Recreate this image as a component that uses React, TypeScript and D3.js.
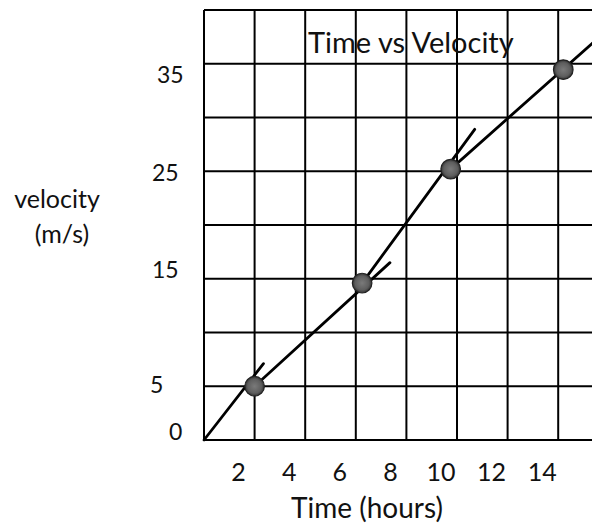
import React, { useEffect, useRef } from 'react';
import * as d3 from 'd3';

// Values
const xTicks = [2, 4, 6, 8, 10, 12, 14];
const yTicks = [0, 5, 15, 25, 35];
const xGrid = [0, 2, 4, 6, 8, 10, 12, 14, 16];
const yGrid = [0, 5, 10, 15, 20, 25, 30, 35, 40];

const pointTime = [2, 6.25, 9.75, 14.2];
const pointVelocity = [5, 14.6, 25.2, 34.45];

// hand-drawn strokes: each runs from one point through the next and a bit beyond
const strokeFromTime = [0, 2, 6.25, 9.75];
const strokeFromVelocity = [0, 5, 14.6, 25.2];
const strokeToTime = [2.35, 7.35, 10.7, 15.4];
const strokeToVelocity = [7.1, 16.5, 28.9, 37];

const W = 592;
const H = 529;
const FONT = 'Lato, "Open Sans", sans-serif';

// the tick labels were placed by hand, not exactly on the lines
const yLabelNudge: Record<number, [number, number]> = {
  35: [4, 19],
  25: [-1, 9.5],
  15: [-1, -1],
  5: [-3, 7],
  0: [16, 0],
};

export default function App() {
  const svgRef = useRef<SVGSVGElement>(null);

  useEffect(() => {
    if (!svgRef.current) return;
    const svg = d3.select(svgRef.current);
    svg.selectAll('*').remove();

    const x = d3.scaleLinear().domain([0, 16]).range([204, 608.8]);
    const y = d3.scaleLinear().domain([0, 40]).range([440, 10]);

    svg.append('rect').attr('width', W).attr('height', H).attr('fill', '#fff');

    // grid
    const grid = svg.append('g').attr('stroke', '#000').attr('stroke-width', 2);
    grid.selectAll('.vx')
      .data(xGrid)
      .enter()
      .append('line')
      .attr('x1', d => x(d))
      .attr('x2', d => x(d))
      .attr('y1', y(40))
      .attr('y2', y(0));
    grid.selectAll('.hy')
      .data(yGrid)
      .enter()
      .append('line')
      .attr('x1', x(0))
      .attr('x2', x(16))
      .attr('y1', d => y(d))
      .attr('y2', d => y(d));

    // title
    svg.append('text')
      .attr('x', 308)
      .attr('y', 53)
      .attr('font-family', FONT)
      .attr('font-size', 29)
      .attr('fill', '#111')
      .text('Time vs Velocity');

    // strokes
    svg.append('g')
      .selectAll('line')
      .data(strokeFromTime.map((t, i) => i))
      .enter()
      .append('line')
      .attr('x1', i => x(strokeFromTime[i]))
      .attr('y1', i => y(strokeFromVelocity[i]))
      .attr('x2', i => x(strokeToTime[i]))
      .attr('y2', i => y(strokeToVelocity[i]))
      .attr('stroke', '#000')
      .attr('stroke-width', 2.8)
      .attr('stroke-linecap', 'round');

    // dots
    const defs = svg.append('defs');
    const grad = defs.append('radialGradient').attr('id', 'dotFill');
    grad.append('stop').attr('offset', '0%').attr('stop-color', '#7a7a7a');
    grad.append('stop').attr('offset', '70%').attr('stop-color', '#5e5e5e');
    grad.append('stop').attr('offset', '100%').attr('stop-color', '#333');

    svg.append('g')
      .selectAll('circle')
      .data(pointTime.map((t, i) => i))
      .enter()
      .append('circle')
      .attr('cx', i => x(pointTime[i]))
      .attr('cy', i => y(pointVelocity[i]))
      .attr('r', 9.8)
      .attr('fill', 'url(#dotFill)')
      .attr('stroke', '#222')
      .attr('stroke-width', 1.2);

    // y tick labels
    svg.append('g')
      .selectAll('text')
      .data(yTicks)
      .enter()
      .append('text')
      .attr('x', d => 153 + yLabelNudge[d][0])
      .attr('y', d => y(d) + yLabelNudge[d][1])
      .attr('font-family', FONT)
      .attr('font-size', 23)
      .attr('fill', '#111')
      .text(d => String(d));

    // x tick labels
    svg.append('g')
      .selectAll('text')
      .data(xTicks)
      .enter()
      .append('text')
      .attr('x', d => x(d) - 16)
      .attr('y', 481)
      .attr('text-anchor', 'middle')
      .attr('font-family', FONT)
      .attr('font-size', 25)
      .attr('fill', '#111')
      .text(d => String(d));

    // axis titles
    svg.append('text')
      .attr('x', 367)
      .attr('y', 518)
      .attr('text-anchor', 'middle')
      .attr('font-family', FONT)
      .attr('font-size', 28)
      .attr('fill', '#111')
      .text('Time (hours)');

    const yTitle = svg.append('text')
      .attr('text-anchor', 'middle')
      .attr('font-family', FONT)
      .attr('font-size', 25)
      .attr('fill', '#111');
    yTitle.append('tspan').attr('x', 57).attr('y', 208).text('velocity');
    yTitle.append('tspan').attr('x', 62).attr('y', 243).text('(m/s)');
  }, []);

  return (
    <svg
      ref={svgRef}
      width={W}
      height={H}
      style={{ position: 'absolute', left: 0, top: 0, display: 'block' }}
    />
  );
}
